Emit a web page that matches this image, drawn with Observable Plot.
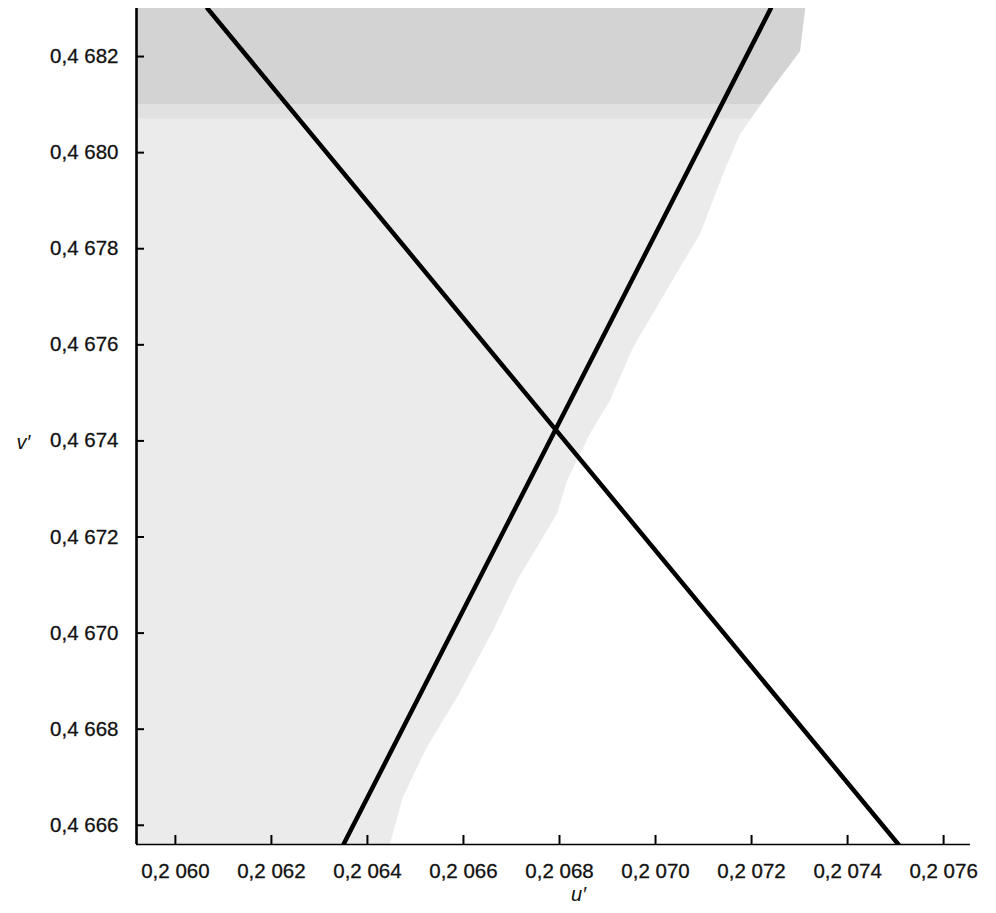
<!DOCTYPE html>
<html><head><meta charset="utf-8">
<script src="https://cdn.jsdelivr.net/npm/d3@7"></script>
<script src="https://cdn.jsdelivr.net/npm/@observablehq/plot@0.6"></script>
<style>html,body{margin:0;padding:0;background:#fff} #chart svg{display:block}</style>
</head><body><div id="chart"></div>
<script>
// Axis domains and ticks (u', v' chromaticity coordinates)
const xDomain = [0.205919, 0.207656];
const yDomain = [0.46656, 0.46830];
const xTicks = [0.2060, 0.2062, 0.2064, 0.2066, 0.2068, 0.2070, 0.2072, 0.2074, 0.2076];
const xTickLabels = ["0,2 060", "0,2 062", "0,2 064", "0,2 066", "0,2 068", "0,2 070", "0,2 072", "0,2 074", "0,2 076"];
const yTicks = [0.4666, 0.4668, 0.4670, 0.4672, 0.4674, 0.4676, 0.4678, 0.4680, 0.4682];
const yTickLabels = ["0,4 666", "0,4 668", "0,4 670", "0,4 672", "0,4 674", "0,4 676", "0,4 678", "0,4 680", "0,4 682"];

// Right boundary of the stippled (shaded) region
const shadeU = [0.207313, 0.207302, 0.207240, 0.207221, 0.207200, 0.207177, 0.207142, 0.207094, 0.207052, 0.206954, 0.206906, 0.206865, 0.206817, 0.206796, 0.206713, 0.206663, 0.206588, 0.206525, 0.206475, 0.206448];
const shadeV = [0.46830, 0.468210, 0.468127, 0.468100, 0.468070, 0.468038, 0.467955, 0.467830, 0.467760, 0.467593, 0.467483, 0.467415, 0.467317, 0.467248, 0.467109, 0.467005, 0.466866, 0.466762, 0.466658, 0.46656];
// Densely stippled band at the top, fading downwards
const denseTop = 0.46810;
const denseFade = 0.46807;

// The two straight lines crossing near (0.20680, 0.46743)
const lineDescU = [0.206067, 0.207506];
const lineDescV = [0.46830, 0.46656];
const lineAscU = [0.206350, 0.207240];
const lineAscV = [0.46656, 0.46830];

const shade = shadeU.map((u, i) => ({u, v: shadeV[i]}));
const shadeDense = shade.filter(d => d.v >= denseTop);
const shadeFade = shade.filter(d => d.v >= denseFade);
const lineDesc = lineDescU.map((u, i) => ({u, v: lineDescV[i]}));
const lineAsc = lineAscU.map((u, i) => ({u, v: lineAscV[i]}));
const xLab = new Map(xTicks.map((t, i) => [t, xTickLabels[i]]));
const yLab = new Map(yTicks.map((t, i) => [t, yTickLabels[i]]));

const chart = Plot.plot({
  width: 996,
  height: 913,
  marginLeft: 136,
  marginRight: 26,
  marginTop: 8,
  marginBottom: 69,
  x: {domain: xDomain, axis: null},
  y: {domain: yDomain, axis: null},
  style: {fontFamily: "'Liberation Sans', Arial, sans-serif", fontSize: "20.5px", color: "#111", background: "#fff"},
  marks: [
    Plot.areaX(shade, {y: "v", x1: xDomain[0], x2: "u", fill: "#000", fillOpacity: 0.08}),
    Plot.areaX(shadeFade, {y: "v", x1: xDomain[0], x2: "u", fill: "#000", fillOpacity: 0.04}),
    Plot.areaX(shadeDense, {y: "v", x1: xDomain[0], x2: "u", fill: "#000", fillOpacity: 0.06}),
    Plot.line(lineDesc, {x: "u", y: "v", stroke: "#000", strokeWidth: 4.5, clip: true}),
    Plot.line(lineAsc, {x: "u", y: "v", stroke: "#000", strokeWidth: 4.5, clip: true}),
    Plot.ruleX([xDomain[0]], {stroke: "#000", strokeWidth: 2.6}),
    Plot.ruleY([yDomain[0]], {stroke: "#000", strokeWidth: 1.6}),
    Plot.axisY(yTicks, {anchor: "left", label: null, tickSize: -8, tickFormat: () => "", stroke: "#000", strokeWidth: 2}),
    Plot.axisY(yTicks, {anchor: "left", label: null, tickSize: 0, tickPadding: 18, tickFormat: d => yLab.get(d), fill: "#111", textStroke: "#111", textStrokeWidth: 0.3}),
    Plot.axisX(xTicks, {anchor: "bottom", label: null, tickSize: -9, tickFormat: () => "", stroke: "#000", strokeWidth: 2}),
    Plot.axisX(xTicks, {anchor: "bottom", label: null, tickSize: 0, tickPadding: 19, tickFormat: d => xLab.get(d), fill: "#111", textStroke: "#111", textStrokeWidth: 0.3}),
    Plot.text(["u\u2032"], {frameAnchor: "bottom", dx: 25, dy: 56, fontStyle: "italic", fontSize: 20, fill: "#111"}),
    Plot.text(["v\u2032"], {frameAnchor: "left", dx: -120, dy: 16, fontStyle: "italic", fontSize: 20, fill: "#111"})
  ]
});
document.getElementById("chart").append(chart);
</script></body></html>
